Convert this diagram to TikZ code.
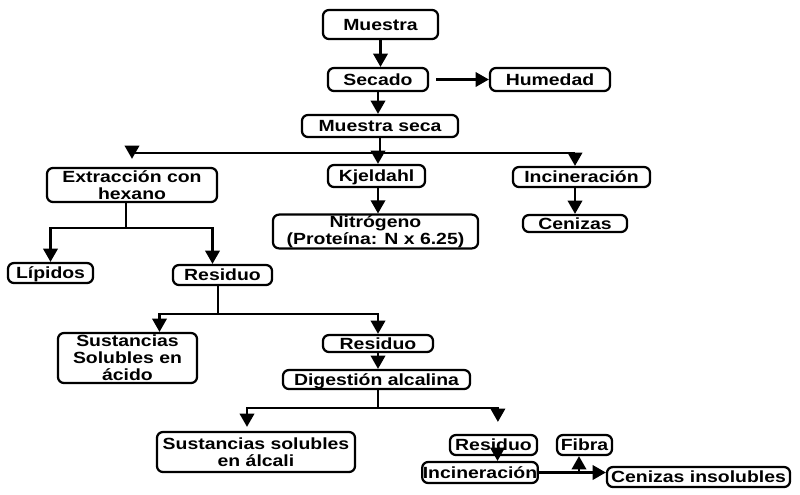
\documentclass[tikz,border=0pt]{standalone}
\usepackage{fontspec}
\setmainfont{Liberation Sans}[FakeStretch=1.2]
\usetikzlibrary{arrows.meta, positioning}

\begin{document}
\begin{tikzpicture}[
  x=0.025cm, y=-0.025cm,
  caja/.style={draw, rounded corners=1.5mm, line width=1.6pt, inner sep=0.5pt,
    align=center, font=\fontsize{11.5}{12.2}\selectfont\bfseries},
  una/.style={caja, text height=8.3pt, text depth=0pt},
  flecha/.style={line width=1.6pt, -{Triangle[length=3.3mm, width=3.6mm]}},
  linea/.style={line width=1.6pt}
]
\useasboundingbox (0,0) rectangle (800,494);

\node[una, minimum width=28.75mm, minimum height=7.25mm] (muestra) at (380.5,24.5) {Muestra};
\node[una, minimum width=25mm, minimum height=5.75mm] (secado) at (378,79.5) {Secado};
\node[una, minimum width=30mm, minimum height=5.75mm] (humedad) at (550,79.5) {Humedad};
\node[una, minimum width=39mm, minimum height=5.5mm] (seca) at (380,126) {Muestra seca};

\node[caja, minimum width=42.5mm, minimum height=8.5mm] (extraccion) at (132,185) {Extracción con\\hexano};
\node[una, minimum width=24.25mm, minimum height=5.5mm] (kjeldahl) at (376.5,176) {Kjeldahl};
\node[una, minimum width=34.25mm, minimum height=5mm] (inciner1) at (581.5,177) {Incineración};
\node[caja, minimum width=51.25mm, minimum height=8.25mm] (nitrogeno) at (375.5,231.5) {Nitrógeno\\(Proteína: N x 6.25)};
\node[una, minimum width=26mm, minimum height=4.25mm] (cenizas) at (575,223.5) {Cenizas};

\node[una, minimum width=21.25mm, minimum height=5mm] (lipidos) at (50.5,273) {Lípidos};
\node[una, minimum width=24.75mm, minimum height=5mm] (residuo1) at (222.5,275) {Residuo};
\node[caja, minimum width=34.75mm, minimum height=12.5mm] (solacido) at (127.5,358) {Sustancias\\Solubles en\\ácido};
\node[una, minimum width=27.5mm, minimum height=4.25mm] (residuo2) at (378,343.5) {Residuo};
\node[una, minimum width=46.75mm, minimum height=4.75mm] (digestion) at (376.5,379.5) {Digestión alcalina};

\node[caja, minimum width=49.5mm, minimum height=10mm] (solalcali) at (256,452) {Sustancias solubles\\en álcali};
\node[una, minimum width=21.75mm, minimum height=5mm] (residuo3) at (493.5,445) {Residuo};
\node[una, minimum width=13.75mm, minimum height=5mm] (fibra) at (584.5,445) {Fibra};
\node[una, minimum width=26mm, minimum height=5.25mm] (inciner2) at (480,472.5) {Incineración};
\node[una, minimum width=45.75mm, minimum height=5mm] (cenizasins) at (698.5,477) {Cenizas insolubles};

% parte superior
\draw[flecha] (muestra.south) -- (muestra.south |- secado.north);
\draw[flecha, shorten <=1.75mm] (secado.east) -- (humedad.west);
\draw[flecha] (secado.south) -- (secado.south |- seca.north);

\coordinate (bus1) at (378,153);
\draw[linea] (seca.south |- bus1) -- (seca.south);
\draw[linea] (extraccion.north |- bus1) -- (cenizas.north |- bus1);
\draw[flecha, shorten >=2mm] (extraccion.north |- bus1) -- (extraccion.north);
\draw[flecha] (bus1) -- (bus1 |- kjeldahl.north);
\draw[flecha] (cenizas.north |- bus1) -- (cenizas.north |- inciner1.north);
\draw[flecha] (kjeldahl.south -| bus1) -- (nitrogeno.north -| bus1);
\draw[flecha] (cenizas.north |- inciner1.south) -- (cenizas.north);

% extraccion
\coordinate (bus2) at (126,228);
\draw[linea] (bus2 |- extraccion.south) -- (bus2);
\draw[flecha] (bus2) -| (lipidos.north);
\draw[flecha] (bus2) -| ([xshift=-2.5mm]residuo1.north);

\coordinate (bus3) at (218,314);
\draw[linea] (bus3 |- residuo1.south) -- (bus3);
\draw[flecha] (bus3) -| ([xshift=8mm]solacido.north);
\draw[flecha] (bus3) -| (residuo2.north);
\draw[flecha] (residuo2.south) -- (residuo2.south |- digestion.north);

% digestion alcalina
\coordinate (bus4) at (378,408);
\draw[linea] (bus4 |- digestion.south) -- (bus4);
\draw[flecha, shorten >=1mm] (bus4) -| ([xshift=-2.25mm]solalcali.north);
\draw[flecha, shorten >=3mm] (bus4) -| ([xshift=1.1mm]residuo3.north);
\draw[flecha] ([xshift=1mm]residuo3.south) -- ([xshift=1mm]residuo3.south |- inciner2.north);

\coordinate (rama) at ([xshift=10mm]inciner2.east);
\draw[flecha] (inciner2.east) -- (cenizasins.west |- inciner2.east);
\draw[flecha] (rama) -- (rama |- fibra.south);
\end{tikzpicture}
\end{document}
